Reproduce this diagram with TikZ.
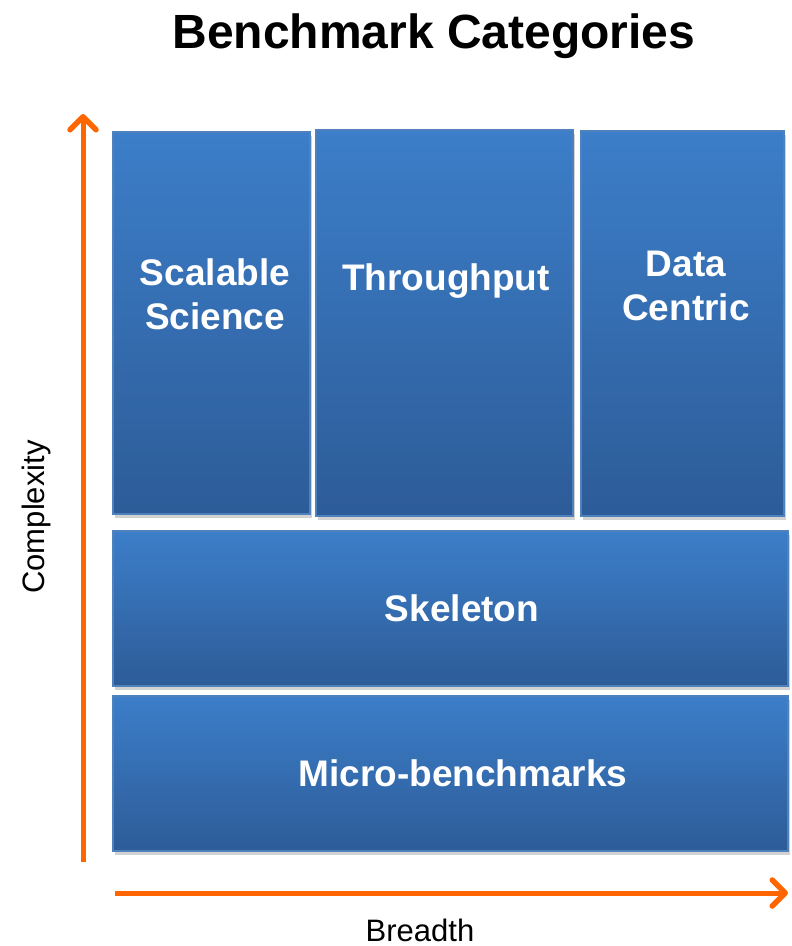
\documentclass[tikz,border=0pt]{standalone}
\usepackage{fontspec}
\setmainfont{Liberation Sans}
\usetikzlibrary{arrows.meta,shadows}
\definecolor{boxtop}{RGB}{60,126,201}
\definecolor{boxmid}{RGB}{56,117,190}
\definecolor{boxbot}{RGB}{45,92,152}
\definecolor{boxline}{RGB}{79,129,189}
\definecolor{axisorange}{RGB}{255,102,0}
\tikzset{
  catbox/.style={rectangle, inner sep=0pt, draw=boxline, line width=1.3pt,
    top color=boxtop, middle color=boxmid, bottom color=boxbot,
    drop shadow={opacity=0.35, shadow xshift=1.5pt, shadow yshift=-4pt}},
  cattext/.style={text=white, font=\bfseries\fontsize{37}{44}\selectfont, align=center, inner sep=0pt},
  axisarrow/.style={draw=axisorange, line width=5pt,
    -{Straight Barb[length=13pt, width=26pt, line width=5.5pt, round]}},
  axislabel/.style={font=\fontsize{31}{37}\selectfont, inner sep=0pt}
}
\begin{document}
\begin{tikzpicture}[x=1pt,y=-1pt]
\useasboundingbox (0,0) rectangle (792,946);
\fill[white] (0,0) rectangle (792,946);
% title
\node[font=\bfseries\fontsize{48}{56}\selectfont, anchor=base, inner sep=0pt] (title) at (434,48) {Benchmark Categories};
% boxes
\node[catbox, minimum width=197pt, minimum height=382pt] (scal) at (211.5,323) {};
\node[catbox, minimum width=257pt, minimum height=386pt] (thru) at (444.5,323) {};
\node[catbox, minimum width=203pt, minimum height=385pt] (data) at (682.5,323.5) {};
\node[catbox, minimum width=675pt, minimum height=155pt] (skel) at (450.5,608.5) {};
\node[catbox, minimum width=675pt, minimum height=155pt] (micro) at (450.5,773.5) {};
% labels
\node[cattext] (scalt) at (215,294) {Scalable\\Science};
\node[cattext, anchor=base] (thrut) at (446,290) {Throughput};
\node[cattext] (datat) at (686,286) {Data\\Centric};
\node[cattext] (skelt) at (462,608) {Skeleton};
\node[cattext] (microt) at (463,773) {Micro-benchmarks};
% axes
\coordinate (ybot) at (83,862);
\coordinate (ytop) at (83,114);
\coordinate (xleft) at (115,893);
\coordinate (xright) at (788,893);
\draw[axisarrow] (ybot) -- (ytop);
\draw[axisarrow] (xleft) -- (xright);
\node[axislabel, rotate=90, anchor=base] (ylab) at (45,517) {Complexity};
\node[axislabel, anchor=base] (xlab) at (420,941) {Breadth};
\end{tikzpicture}
\end{document}
